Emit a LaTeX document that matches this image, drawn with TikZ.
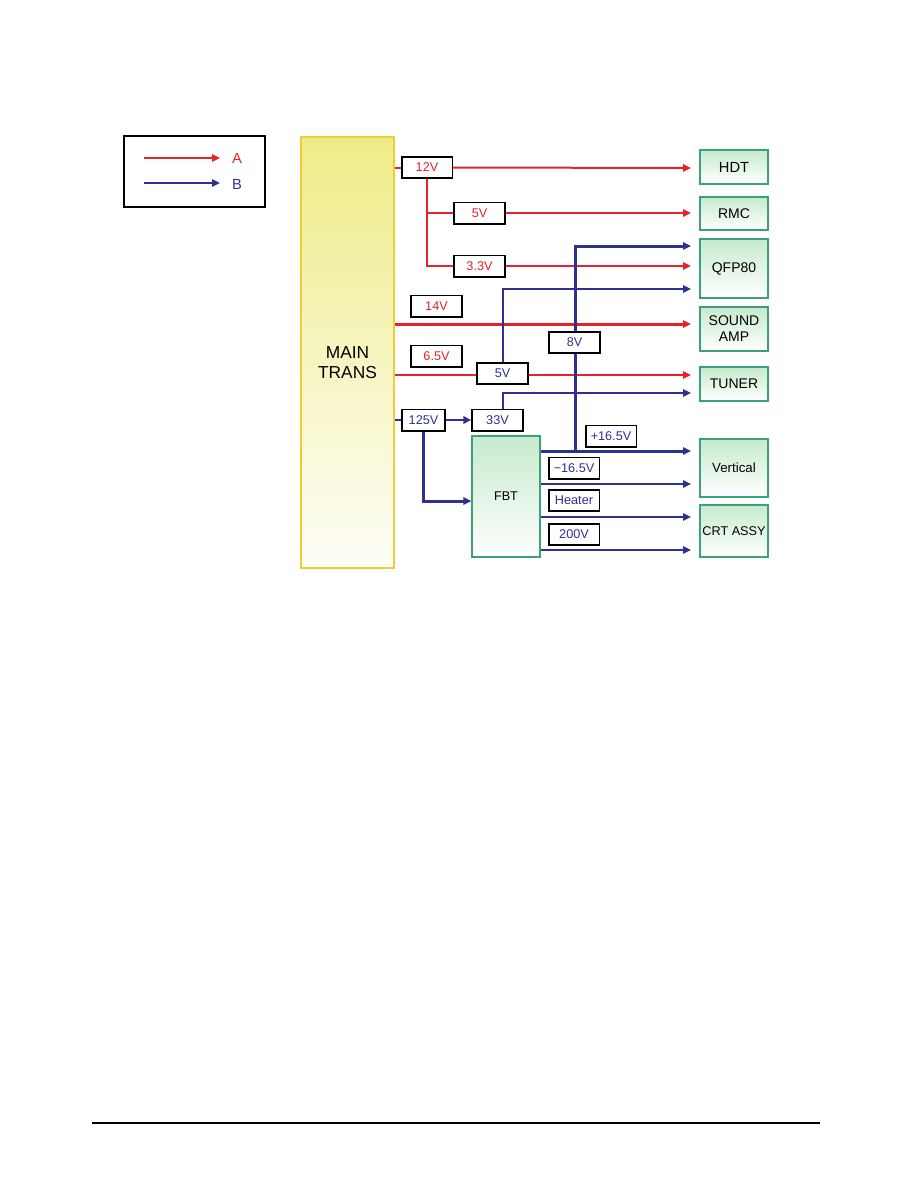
\documentclass[tikz,border=0pt]{standalone}
\usepackage{fontspec}
\setmainfont{Liberation Sans}
\usetikzlibrary{arrows.meta,positioning,backgrounds}
\definecolor{cRed}{RGB}{230,35,45}
\definecolor{cNavy}{RGB}{46,49,146}
\definecolor{cGold}{RGB}{240,205,50}
\definecolor{cYel}{RGB}{238,236,135}
\definecolor{cGrnLine}{RGB}{60,160,120}
\definecolor{cGrn}{RGB}{198,234,205}
\tikzset{
  vbox/.style={rectangle,draw=black,line width=1.25pt,fill=white,inner sep=0pt,
               minimum width=38pt,minimum height=16pt,
               font=\fontsize{9.5}{11}\selectfont},
  redv/.style={vbox,text=cRed},
  bluev/.style={vbox,text=cNavy},
  devnode/.style={rectangle,draw=cGrnLine,line width=0.9pt,top color=cGrn,
                  bottom color=white,minimum width=51pt,align=center,inner sep=1pt,
                  font=\fontsize{10.5}{12}\selectfont},
  rline/.style={draw=cRed,line width=1.5pt},
  bline/.style={draw=cNavy,line width=1.5pt},
  rarr/.style={rline,-{Triangle[length=6pt,width=5.5pt]}},
  barr/.style={bline,-{Triangle[length=6pt,width=5.5pt]}},
  thk/.style={line width=2.25pt}
}

\begin{document}
\begin{tikzpicture}[x=0.75pt,y=-0.75pt]
  \useasboundingbox (0,0) rectangle (918,1188);

  % legend
  \node[draw=black,line width=0.8pt,minimum width=105.75pt,minimum height=53.25pt]
      (legend) at (194.5,171.5) {};
  \coordinate (la1) at (144,158);
  \coordinate (la2) at (220,158);
  \coordinate (lb1) at (144,183);
  \coordinate (lb2) at (220,183);
  \node[text=cRed,font=\fontsize{11}{13}\selectfont] (lA) at (237,158) {A};
  \node[text=cNavy,font=\fontsize{11}{13}\selectfont] (lB) at (237,184) {B};
  \draw[rarr] (la1) -- (la2);
  \draw[barr] (lb1) -- (lb2);

  % main transformer
  \node[draw=cGold,line width=0.9pt,top color=cYel,bottom color=cYel!6,
        minimum width=69.75pt,minimum height=323.25pt] (main) at (347.5,352.5) {};
  \node[align=center,font=\fontsize{13}{15.5}\selectfont]
      (mainlbl) at ([yshift=-7.5pt]main.center) {MAIN\\TRANS};

  % voltage boxes
  \node[redv] (v12) at (427,167.5) {12V};
  \node[redv] (v5r) at (479.5,213) {5V};
  \node[redv] (v33) at (479.5,266) {3.3V};
  \node[redv] (v14) at (436.5,306) {14V};
  \node[redv] (v65) at (436.5,356) {6.5V};
  \node[bluev,minimum width=32pt] (v125) at (423.5,420) {125V};
  \node[bluev] (v33b) at (497.5,420) {33V};
  \node[bluev] (v5b) at (502.5,373.5) {5V};
  \node[bluev] (v8) at (574.5,342.5) {8V};
  \node[bluev] (vp16) at (611,436) {+16.5V};
  \node[bluev] (vm16) at (574,468) {−16.5V};
  \node[bluev] (vht) at (574,500.5) {Heater};
  \node[bluev] (v200) at (574,534.5) {200V};

  % FBT
  \node[devnode,minimum height=90.75pt,font=\fontsize{9.5}{11}\selectfont]
      (fbt) at (506,496.5) {FBT};

  % loads
  \node[devnode,minimum height=25.5pt,font=\fontsize{11}{12}\selectfont]
      (hdt) at (734,167) {HDT};
  \node[devnode,minimum height=24.75pt] (rmc) at (734,213.5) {RMC};
  \node[devnode,minimum height=44.25pt] (qfp) at (734,268.5) {QFP80};
  \node[devnode,minimum height=33pt] (snd) at (734,329) {SOUND\\AMP};
  \node[devnode,minimum height=25.5pt] (tun) at (734,384) {TUNER};
  \node[devnode,minimum height=43.5pt,font=\fontsize{10}{12}\selectfont]
      (vert) at (734,468) {Vertical};
  \node[devnode,minimum height=39pt,font=\fontsize{9.5}{12}\selectfont]
      (crt) at (734,531) {CRT ASSY};

  % arrow ends in front of the loads
  \foreach \n/\y in {hdt/168,rmc/213,qa/246,qb/266,qc/289,snd/324,
                     ta/375,tb/393,va/451,vb/484,ca/517,cb/550}
    \coordinate (e-\n) at (691,\y);
  \coordinate (fin) at ([yshift=-3.4pt]fbt.west);
  \coordinate (j8) at (575,451);

  \begin{scope}[on background layer]
    % A lines
    \draw[rline] (main.east |- v12) -- (v12.west);
    \draw[rarr] (v12.east) -- (e-hdt);
    \draw[rline] (v12.south) |- (v33.west);
    \draw[rline] (v12.south |- v5r) -- (v5r.west);
    \draw[rarr] (v5r.east) -- (e-rmc);
    \draw[rarr] (v33.east) -- (e-qb);
    \draw[rarr,thk] (main.east |- e-snd) -- (e-snd);
    \draw[rarr] (main.east |- e-ta) -- (e-ta);

    % B lines
    \draw[bline] (main.east |- v125) -- (v125.west);
    \draw[barr] (v125.east) -- (v33b.west);
    \draw[barr,thk] (v125.south) |- (fin);
    \draw[barr] ([xshift=4pt]v33b.north) |- (e-tb);
    \draw[barr] (v5b.north) |- (e-qc);
    \draw[barr,thk] (j8) |- (e-qa);
    \draw[barr,thk] (fbt.east |- e-va) -- (e-va);
    \foreach \n in {vb,ca,cb}
      \draw[barr] (fbt.east |- e-\n) -- (e-\n);
  \end{scope}

  % page rule
  \draw[line width=1pt] (92,1123) -- (820,1123);

\end{tikzpicture}
\end{document}
